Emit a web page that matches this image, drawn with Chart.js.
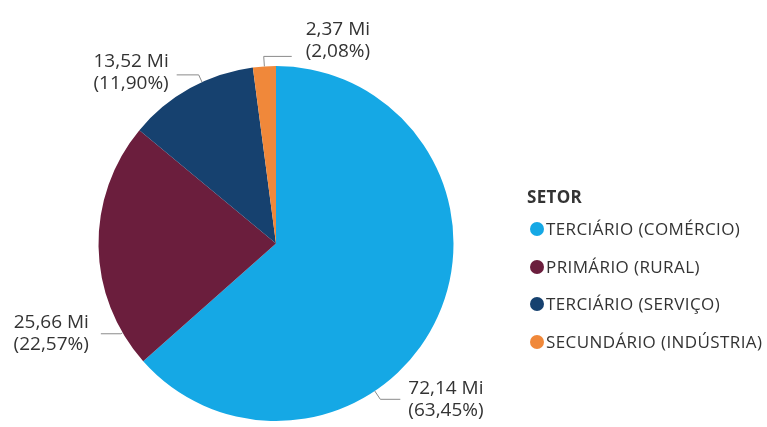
<!DOCTYPE html>
<html>
<head>
<meta charset="utf-8">
<script src="https://cdn.jsdelivr.net/npm/chart.js@4/dist/chart.umd.min.js"></script>
<style>
  html, body { margin: 0; padding: 0; background: #fff; }
  #wrap { position: relative; width: 767px; height: 427px; }
  #legenda { position: absolute; left: 527px; top: 184px; font-family: "Open Sans", sans-serif; color: #333; }
  #legenda .titulo { font-weight: bold; font-size: 17px; height: 26px; line-height: 26px; letter-spacing: 0.3px; }
  #legenda .item { font-size: 17px; height: 37.6px; line-height: 37.6px; white-space: nowrap; letter-spacing: 0.4px; }
  #legenda .bola { display: inline-block; width: 14px; height: 14px; border-radius: 50%; vertical-align: -1px; margin-right: 2px; margin-left: 3px; }
</style>
</head>
<body>
<div id="wrap">
  <canvas id="setores" width="767" height="427"></canvas>
  <div id="legenda"></div>
</div>
<script>
var setores = ['TERCIÁRIO (COMÉRCIO)', 'PRIMÁRIO (RURAL)', 'TERCIÁRIO (SERVIÇO)', 'SECUNDÁRIO (INDÚSTRIA)']
var valores = [72.14, 25.66, 13.52, 2.37]
var rotulos_valor = ['72,14 Mi', '25,66 Mi', '13,52 Mi', '2,37 Mi']
var rotulos_pct = ['(63,45%)', '(22,57%)', '(11,90%)', '(2,08%)']
var cores = ['#15A8E5', '#6B1E3D', '#16416F', '#F0883A']

// onde cada rotulo se prende na fatia (fracao do arco) e como a linha sai
var ajuste_rotulos = [
  {frac: 0.64, L: 10, H: 20, gap: 8, dy: 0, lado: 1},
  {frac: 0.14, L: 2, H: 20, gap: 12, dy: 0, lado: -1},
  {frac: 0.60, L: 8, H: 22, gap: 8, dy: -2, lado: -1},
  {frac: 0.50, L: 10, H: 28, gap: 14, dy: -16, lado: 1}
]

var rotulosPlugin = {
  id: 'rotulos',
  afterDatasetsDraw: function(chart) {
    var c = chart.ctx
    var meta = chart.getDatasetMeta(0)
    c.save()
    for (var i = 0; i < meta.data.length; i++) {
      var arc = meta.data[i]
      var aj = ajuste_rotulos[i]
      var ang = arc.startAngle + (arc.endAngle - arc.startAngle) * aj.frac
      var r = arc.outerRadius
      var x0 = arc.x + Math.cos(ang) * r
      var y0 = arc.y + Math.sin(ang) * r
      var x1 = arc.x + Math.cos(ang) * (r + aj.L)
      var y1 = arc.y + Math.sin(ang) * (r + aj.L)
      var lado = aj.lado
      var x2 = x1 + lado * aj.H
      c.strokeStyle = '#8a8a8a'
      c.lineWidth = 1
      c.beginPath()
      c.moveTo(x0, y0)
      c.lineTo(x1, y1)
      c.lineTo(x2, y1)
      c.stroke()
      c.fillStyle = '#333'
      c.font = '19px "Open Sans", sans-serif'
      c.textAlign = lado > 0 ? 'left' : 'right'
      c.textBaseline = 'middle'
      var tx = x2 + lado * aj.gap
      var ty = y1 + aj.dy
      c.fillText(rotulos_valor[i], tx, ty - 11)
      c.fillText(rotulos_pct[i], tx, ty + 11)
    }
    c.restore()
  }
}

function monta_legenda(){
  var html = '<div class="titulo">SETOR</div>'
  for (var i = 0; i < setores.length; i++) {
    html += '<div class="item"><span class="bola" style="background:' + cores[i] + '"></span>' + setores[i] + '</div>'
  }
  document.getElementById('legenda').innerHTML = html
}

monta_legenda()

new Chart(document.getElementById('setores'), {
  type: 'pie',
  data: {
    labels: setores,
    datasets: [{
      data: valores,
      backgroundColor: cores,
      borderWidth: 0
    }]
  },
  options: {
    responsive: false,
    animation: false,
    layout: { padding: { left: 98, right: 313, top: 66, bottom: 6 } },
    plugins: {
      legend: { display: false },
      tooltip: { enabled: false }
    }
  },
  plugins: [rotulosPlugin]
});
</script>
</body>
</html>
